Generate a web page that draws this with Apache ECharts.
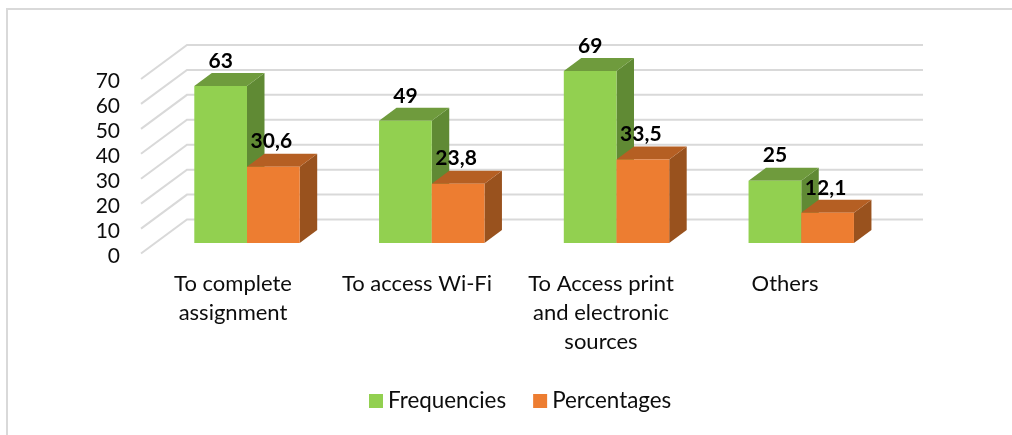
<!DOCTYPE html>
<html>
<head>
<meta charset="utf-8">
<title>Reasons for visiting the library</title>
<style>
  html, body { margin: 0; padding: 0; background: #fff; }
  #chart { width: 1012px; height: 435px; }
</style>
<script src="https://cdn.jsdelivr.net/npm/echarts@6/dist/echarts.min.js"></script>
</head>
<body>
<div id="chart"></div>
<script>
// Chart values
const categories = ['To complete\nassignment', 'To access Wi-Fi', 'To Access print\nand electronic\nsources', 'Others'];
const frequencies = [63, 49, 69, 25];
const percentages = [30.6, 23.8, 33.5, 12.1];
const yTicks = [0, 10, 20, 30, 40, 50, 60, 70];

// Oblique projection of the 3D box
const FLOOR_DEPTH = { dx: 46, dy: -34 };   // front edge of the floor to the back wall
const BAR_INSET = { dx: 14, dy: -10.5 };   // front edge of the floor to the bar fronts
const BAR_DEPTH = { dx: 17.5, dy: -13 };   // thickness of a bar
const BAR_WIDTH = 52.7;
const BAR_STEP_EXTRA = 0.75;               // bar groups spread slightly wider than the floor

const FONT = 'Lato, "Open Sans", sans-serif';
const TEXT_COLOR = '#0d0d0d';
const GRID_COLOR = '#d9d9d9';

const seriesLook = [
  { name: 'Frequencies', values: frequencies, front: '#92d050', top: '#6f9b3d', side: '#608a34' },
  { name: 'Percentages', values: percentages, front: '#ed7d31', top: '#b55f23', side: '#99521e' }
];

function poly(points, fill) {
  return { type: 'polygon', shape: { points }, style: { fill } };
}

function barLeft(base, cat, s) {
  return base[0] + BAR_INSET.dx + cat * BAR_STEP_EXTRA + (s === 0 ? -BAR_WIDTH : 0);
}

// Wall and floor rules: one diagonal and one back line per tick
function renderRule(params, api) {
  const sys = params.coordSys;
  const y = api.coord([0, api.value(0)])[1];
  const x0 = sys.x;
  const bx = x0 + FLOOR_DEPTH.dx;
  const by = y + FLOOR_DEPTH.dy;
  return {
    type: 'polyline',
    shape: { points: [[x0, y], [bx, by], [bx + sys.width, by]] },
    style: { fill: 'none', stroke: GRID_COLOR, lineWidth: 2 },
    silent: true
  };
}

function makeBarRenderer(seriesIndex) {
  const look = seriesLook[seriesIndex];
  return function (params, api) {
    const cat = api.value(0);
    const val = api.value(1);
    const base = api.coord([cat, 0]);
    const tip = api.coord([cat, val]);
    const left = barLeft(base, cat, seriesIndex);
    const right = left + BAR_WIDTH;
    const bottom = base[1] + BAR_INSET.dy;
    const top = tip[1] + BAR_INSET.dy;
    const dx = BAR_DEPTH.dx;
    const dy = BAR_DEPTH.dy;
    return {
      type: 'group',
      children: [
        poly([[right, top], [right + dx, top + dy], [right + dx, bottom + dy], [right, bottom]], look.side),
        poly([[left, top], [left + dx, top + dy], [right + dx, top + dy], [right, top]], look.top),
        poly([[left, top], [right, top], [right, bottom], [left, bottom]], look.front)
      ]
    };
  };
}

// Value labels go last so that they sit above every bar
function renderValueLabel(params, api) {
  const s = api.value(0);
  const cat = api.value(1);
  const val = api.value(2);
  const base = api.coord([cat, 0]);
  const tip = api.coord([cat, val]);
  return {
    type: 'text',
    style: {
      x: barLeft(base, cat, s) + BAR_WIDTH / 2 - s * 2,
      y: tip[1] + BAR_INSET.dy - 25,
      text: String(val).replace('.', ','),
      fill: '#000',
      font: 'bold 21px ' + FONT,
      align: 'center',
      verticalAlign: 'middle'
    },
    silent: true
  };
}

const labelRows = [];
seriesLook.forEach((look, s) => look.values.forEach((v, c) => labelRows.push([s, c, v])));

const chart = echarts.init(document.getElementById('chart'), null, { renderer: 'canvas' });
chart.setOption({
  animation: false,
  backgroundColor: '#fff',
  grid: { left: 141, top: 79, width: 736, height: 174.5, containLabel: false },
  legend: {
    data: seriesLook.map(l => l.name),
    left: 364,
    top: 385,
    icon: 'rect',
    itemWidth: 14,
    itemHeight: 14,
    itemGap: 27,
    textStyle: { fontFamily: FONT, fontSize: 22.4, color: TEXT_COLOR },
    selectedMode: false
  },
  xAxis: {
    type: 'category',
    data: categories,
    boundaryGap: true,
    axisLine: { show: false },
    axisTick: { show: false },
    axisLabel: {
      interval: 0,
      margin: 16,
      fontFamily: FONT,
      fontSize: 22,
      lineHeight: 29,
      color: TEXT_COLOR
    }
  },
  yAxis: {
    type: 'value',
    min: 0,
    max: 70,
    interval: 10,
    axisLine: { show: false },
    axisTick: { show: false },
    splitLine: { show: false },
    axisLabel: {
      margin: 21,
      formatter: '{tick|{value}}',
      rich: {
        tick: { padding: [5, 0, 0, 0], fontFamily: FONT, fontSize: 21, color: TEXT_COLOR }
      }
    }
  },
  graphic: [
    {
      type: 'polyline',
      shape: { points: [[7, 435], [7, 9], [1012, 9]] },
      style: { fill: 'none', stroke: GRID_COLOR, lineWidth: 2 },
      silent: true
    }
  ],
  series: [
    {
      name: 'rules',
      type: 'custom',
      data: yTicks.map(v => [v]),
      encode: { y: 0 },
      renderItem: renderRule,
      silent: true,
      z: 1
    },
    ...seriesLook.map((look, s) => ({
      name: look.name,
      type: 'custom',
      data: look.values.map((v, c) => [c, v]),
      encode: { x: 0, y: 1 },
      renderItem: makeBarRenderer(s),
      itemStyle: { color: look.front },
      z: 2 + s
    })),
    {
      name: 'values',
      type: 'custom',
      data: labelRows,
      encode: { x: 1, y: 2 },
      renderItem: renderValueLabel,
      silent: true,
      z: 5
    }
  ]
});
</script>
</body>
</html>
